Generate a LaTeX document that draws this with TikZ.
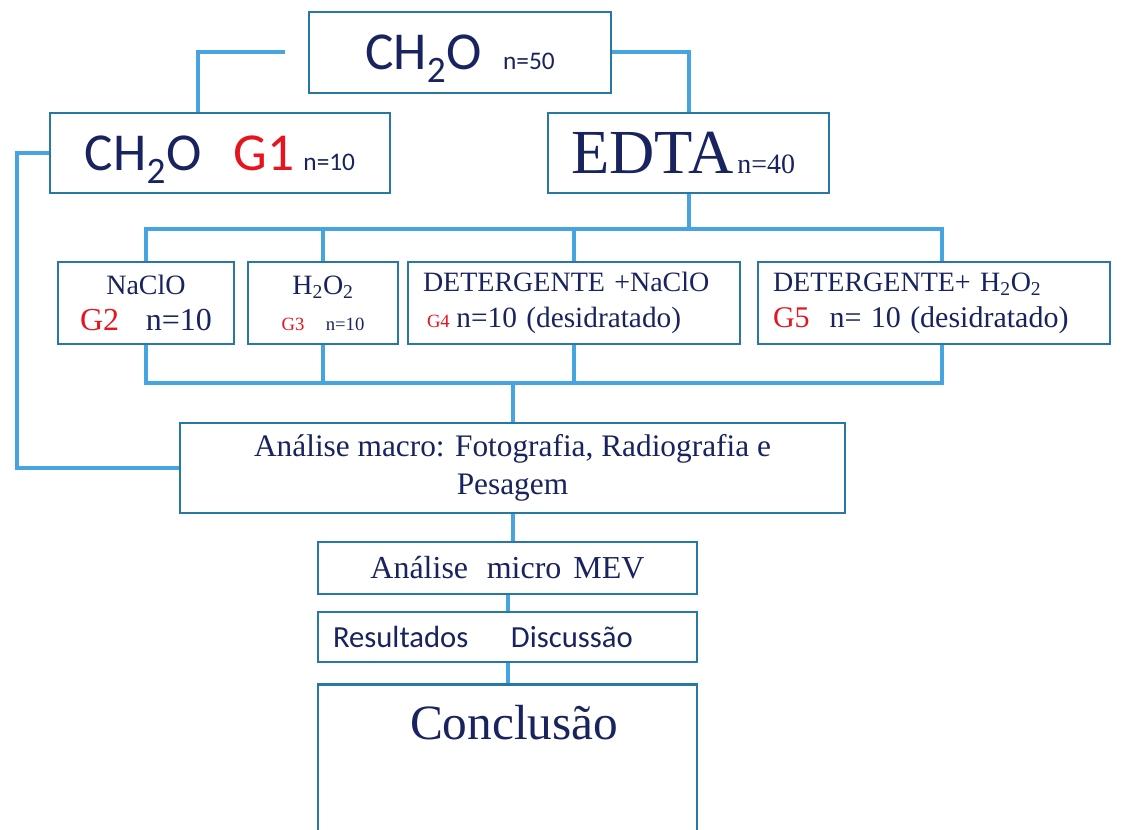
\documentclass[tikz,border=0pt]{standalone}
\usepackage{fontspec}
\setmainfont{Liberation Serif}
\newfontfamily\calib{Carlito}
\usetikzlibrary{positioning}

\definecolor{linecol}{RGB}{70,165,225}
\definecolor{boxcol}{RGB}{40,120,165}
\definecolor{navy}{RGB}{25,35,95}
\definecolor{gred}{RGB}{230,20,30}

\newlength\pix
\setlength\pix{0.75pt}
\newcommand\fs[2]{\fontsize{#1}{#2}\selectfont}

\tikzset{
    box/.style={draw=boxcol, line width=2.2pt, fill=white, inner sep=0pt, text=navy, align=center},
    link/.style={draw=linecol, line width=3pt},
}

\begin{document}
\begin{tikzpicture}[x=0.75pt, y=-0.75pt]
    \useasboundingbox[fill=white] (0,0) rectangle (1122,830);

    % grupos
    \node[box, minimum width=302\pix, minimum height=81\pix, text depth=0pt, font=\calib\fs{40}{40}] (top) at (460,52.5)
        {CH\textsubscript{2}O\hspace{16pt}{\fs{19}{19}n=50}};
    \node[box, minimum width=340\pix, minimum height=80\pix, text depth=0pt, font=\calib\fs{40}{40}] (g1) at (220,153)
        {CH\textsubscript{2}O\hspace{24pt}{\color{gred}G1}\hspace{7pt}{\fs{19}{19}n=10}};
    \node[box, minimum width=281\pix, minimum height=80\pix, text depth=0pt, font=\fs{47}{47}] (edta) at (688.5,153)
        {EDTA\hspace{3pt}{\fs{21}{21}n=40}\hspace{8pt}};

    % tratamentos
    \node[box, minimum width=176\pix, minimum height=82\pix, font=\fs{21}{27}] (naclo) at (146,303)
        {NaClO\\{\fs{24}{27}\color{gred}G2}\hspace{20pt}{\fs{24}{27}n=10}};
    \node[box, minimum width=150\pix, minimum height=82\pix, font=\fs{21}{27}] (h2o2) at (323,303)
        {H\textsubscript{2}O\textsubscript{2}\\{\fs{14}{27}\color{gred}G3}\hspace{16pt}{\fs{14}{27}n=10}};
    \node[box, minimum width=332\pix, minimum height=82\pix, text width=302\pix, align=left, font=\fs{21}{27}] (g4) at (574,303)
        {DETERGENTE +NaClO\\\hspace{3pt}{\fs{14}{27}\color{gred}G4}\hspace{5pt}{\fs{22}{27}n=10 (desidratado)}};
    \node[box, minimum width=352\pix, minimum height=82\pix, text width=322\pix, align=left, font=\fs{21}{27}] (g5) at (934,303)
        {DETERGENTE+ H\textsubscript{2}O\textsubscript{2}\\{\fs{22.5}{27}\color{gred}G5}\hspace{15pt}{\fs{22.5}{27}n= 10 (desidratado)}};

    % analises
    \node[box, minimum width=665\pix, minimum height=90\pix, font=\fs{23.5}{28}] (analise) at (512.5,468)
        {Análise macro: Fotografia, Radiografia e\\Pesagem};
    \node[box, minimum width=379\pix, minimum height=52\pix, font=\fs{24}{24}] (mev) at (507.5,568)
        {Análise\hspace{14pt}micro\hspace{9pt}MEV};
    \node[box, minimum width=379\pix, minimum height=50\pix, text width=349\pix, align=left, font=\calib\fs{23}{23}] (res) at (507.5,637)
        {Resultados\hspace{32pt}Discussão};
    \node[box, minimum width=379\pix, text height=31pt, text depth=80pt, inner ysep=10pt, anchor=north, font=\fs{37}{37}] (conc) at (507.5,683)
        {\hspace{10pt}Conclusão};

    \coordinate (bustop) at (688.5,229);
    \coordinate (busbot) at (512.5,383);

    % ligacoes
    \draw[link] ([xshift=-17pt]top.west) -| ([xshift=-16.5pt]g1.north);
    \draw[link] (top.east) -| (edta.north);
    \draw[link] (edta.south) -- (bustop);
    \draw[link] (naclo.north) |- (bustop) -| ([xshift=6pt]g5.north);
    \draw[link] (h2o2.north) -- (h2o2.north |- bustop);
    \draw[link] (g4.north) -- (g4.north |- bustop);
    \draw[link] (naclo.south) |- (busbot) -| ([xshift=6pt]g5.south);
    \draw[link] (h2o2.south) -- (h2o2.south |- busbot);
    \draw[link] (g4.south) -- (g4.south |- busbot);
    \draw[link] (busbot) -- (analise.north);
    \draw[link] (g1.west) -- ++(-32,0) |- (analise.west);
    \draw[link] (analise.south) -- (analise.south |- mev.north);
    \draw[link] (mev.south) -- (res.north);
    \draw[link] (res.south) -- (conc.north);
\end{tikzpicture}
\end{document}
